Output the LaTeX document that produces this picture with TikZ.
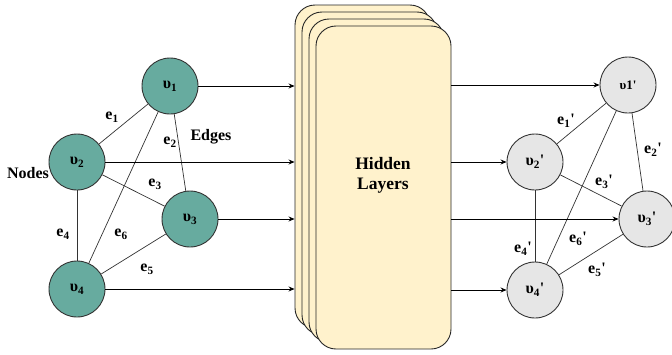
\documentclass[tikz,border=0pt]{standalone}
\usepackage{fontspec}
\setmainfont{Liberation Serif}[Ligatures=TeXOff]
\usetikzlibrary{arrows.meta}
\definecolor{tealfill}{HTML}{67AB9F}
\definecolor{greyfill}{HTML}{E6E6E6}
\definecolor{layerfill}{HTML}{FFF2CC}
\definecolor{outline}{HTML}{333333}
\tikzset{
  vtx/.style={circle, draw=outline, line width=0.9pt, minimum size=56pt, inner sep=0pt,
              font=\fontsize{16}{19}\selectfont\bfseries},
  invtx/.style={vtx, fill=tealfill},
  outvtx/.style={vtx, fill=greyfill},
  layer/.style={draw=black!85, line width=0.9pt, fill=layerfill, rounded corners=20pt,
                minimum width=135pt, minimum height=323pt, inner sep=0pt},
  lbl/.style={inner sep=0pt, font=\fontsize{16}{19}\selectfont\bfseries},
  link/.style={draw=outline, line width=0.7pt},
  flow/.style={draw=black, line width=0.8pt, -{Stealth[length=6pt,width=5pt]}},
}
\begin{document}
\begin{tikzpicture}[x=1pt, y=-1pt]
\useasboundingbox (0,0) rectangle (672,354);

% stacked hidden layers, back to front
\node[layer] (hl1) at (362.5,166.5) {};
\node[layer] (hl2) at (369.5,173.5) {};
\node[layer] (hl3) at (376.5,180.5) {};
\node[layer] (hl4) at (383.5,187.5) {};
\node[lbl, align=center, font=\fontsize{17.5}{20}\selectfont\bfseries] (hltext) at (383,175) {Hidden\\Layers};

% input graph
\node[invtx] (v1) at (170,86)  {υ\textsubscript{1}};
\node[invtx] (v2) at (77,162)  {υ\textsubscript{2}};
\node[invtx] (v3) at (190,219) {υ\textsubscript{3}};
\node[invtx] (v4) at (77,289)  {υ\textsubscript{4}};

\draw[link] (v2) -- (v1);
\draw[link] (v1) -- (v3);
\draw[link] (v2) -- (v3);
\draw[link] (v2) -- (v4);
\draw[link] (v4) -- (v3);
\draw[link] (v4) -- (v1);

\node[lbl] (e1) at (112,117) {e\textsubscript{1}};
\node[lbl] (e2) at (170,142) {e\textsubscript{2}};
\node[lbl] (e3) at (155,184) {e\textsubscript{3}};
\node[lbl] (e4) at (63,234)  {e\textsubscript{4}};
\node[lbl] (e5) at (147,269) {e\textsubscript{5}};
\node[lbl] (e6) at (121,234) {e\textsubscript{6}};
\node[lbl] (edges) at (211,137) {Edges};
\node[lbl] (nodes) at (28,173) {Nodes};

% output graph
\node[outvtx, font=\fontsize{13}{15}\selectfont\bfseries] (w1) at (628,85) {υ1'};
\node[outvtx] (w2) at (535,162) {υ\textsubscript{2}'};
\node[outvtx] (w3) at (647,219) {υ\textsubscript{3}'};
\node[outvtx] (w4) at (535,290) {υ\textsubscript{4}'};

\draw[link] (w2) -- (w1);
\draw[link] (w1) -- (w3);
\draw[link] (w2) -- (w3);
\draw[link] (w2) -- (w4);
\draw[link] (w4) -- (w3);
\draw[link] (w4) -- (w1);

\node[lbl] (f1) at (566,121) {e\textsubscript{1}'};
\node[lbl] (f2) at (653,150) {e\textsubscript{2}'};
\node[lbl] (f3) at (604,182) {e\textsubscript{3}'};
\node[lbl] (f4) at (523,249) {e\textsubscript{4}'};
\node[lbl] (f5) at (597,270) {e\textsubscript{5}'};
\node[lbl] (f6) at (578,239) {e\textsubscript{6}'};

% data flow into and out of the hidden layers
\foreach \n in {1,...,4}{
  \draw[flow] (v\n.east) -- (v\n.east -| hl1.west);
  \draw[flow] (hl4.east |- w\n.west) -- (w\n.west);
}
\end{tikzpicture}
\end{document}
